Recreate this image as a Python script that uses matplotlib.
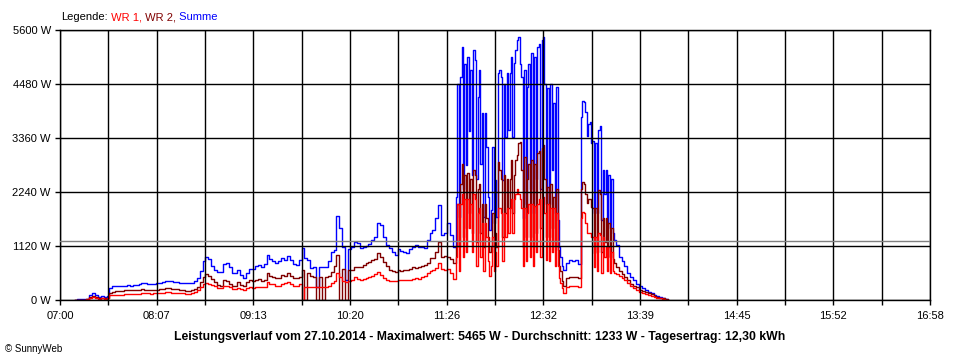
#!/usr/bin/env python3
# -*- coding: utf-8 -*-
"""
SunnyWeb-Tagesverlauf (27.10.2014) mit matplotlib nachgebaut.
Ausgabe: out.png (960x360)
"""

import numpy as np
import matplotlib

matplotlib.use("Agg")
import matplotlib.pyplot as plt


# Zeitraster in Minuten ab 07:00: (start, stop, schritt) je Abschnitt,
# in den unruhigen Abschnitten minütlich, sonst alle 2 Minuten
zeit_abschnitte = [(10, 272, 2), (272, 346, 1), (346, 358, 2), (358, 382, 1), (382, 420, 2)]
X_SPAN_MIN = 598  # 07:00 .. 16:58

# Summe (blau)
summe = [
    # 07:10 .. 11:30 (2 min)
    10, 15, 20, 20, 30, 100, 140, 110, 70, 80,
    70, 75, 240, 285, 290, 295, 300, 300, 305, 300,
    310, 315, 330, 345, 345, 340, 335, 340, 345, 360,
    380, 395, 400, 390, 375, 370, 360, 345, 345, 345,
    360, 400, 450, 600, 800, 900, 850, 700, 620, 580,
    588, 750, 761, 680, 560, 560, 620, 520, 450, 570,
    640, 650, 700, 720, 690, 740, 930, 850, 810, 770,
    800, 864, 830, 920, 830, 740, 726, 820, 1072, 880,
    830, 660, 680, 260, 680, 680, 680, 800, 1000, 1040,
    1740, 1500, 1100, 420, 1060, 1100, 1200, 1180, 1072, 1090,
    1110, 1170, 1244, 1300, 1600, 1550, 1300, 1150, 1072, 1002,
    930, 1050, 1010, 1002, 980, 1060, 1100, 1140, 1100, 1100,
    1080, 1244, 1383, 1452, 1700, 1970, 1350, 1400, 1600, 1348,
    1100,
    # 11:32 .. 12:45 (1 min)
    2140, 4490, 1730, 4630, 5250, 2300, 4900, 2800, 5050, 3500,
    4770, 2600, 5190, 4980, 2500, 4220, 4770, 2830, 3870, 1730,
    3870, 3180, 2140, 1450, 1870, 3180, 1590, 2490, 1730, 4700,
    4770, 4630, 2490, 4490, 3390, 4700, 3530, 4700, 5050, 3390,
    4910, 5190, 5400, 5460, 4900, 4630, 1700, 4770, 2000, 4420,
    4900, 2300, 5120, 1800, 5050, 2500, 5250, 5320, 2300, 5390,
    5465, 4490, 2000, 4400, 2000, 4490, 2700, 4080, 1800, 4420,
    1660, 1100, 900, 700,
    # 12:46 .. 12:56 (2 min)
    622, 760, 830, 800, 830, 740,
    # 12:58 .. 13:21 (1 min)
    3800, 4130, 4100, 3900, 3400, 3660, 3700, 3250, 3300, 1800,
    3250, 1800, 3530, 3600, 1650, 2700, 2200, 2700, 1600, 2600,
    1500, 2500, 1400, 1250,
    # 13:22 .. 13:58 (2 min)
    1150, 900, 800, 700, 550, 484, 415, 340, 290, 250,
    210, 175, 140, 110, 80, 60, 45, 25, 0,
]

# WR 2 (dunkelrot)
wr2 = [
    0, 5, 10, 10, 15, 55, 75, 60, 40, 45,
    40, 40, 150, 175, 180, 190, 195, 200, 205, 200,
    205, 205, 215, 220, 215, 215, 210, 210, 215, 225,
    235, 240, 245, 235, 230, 225, 215, 200, 190, 190,
    210, 230, 280, 380, 480, 540, 500, 440, 380, 320,
    300, 420, 400, 340, 290, 300, 380, 310, 290, 370,
    410, 390, 420, 430, 400, 420, 553, 490, 470, 460,
    450, 520, 490, 553, 500, 450, 450, 480, 622, 0,
    553, 500, 470, 0, 470, 0, 470, 500, 588, 700,
    930, 0, 640, 0, 620, 622, 691, 680, 691, 720,
    760, 795, 820, 850, 968, 900, 780, 700, 622, 600,
    588, 620, 610, 630, 620, 640, 690, 660, 680, 700,
    720, 761, 864, 880, 1000, 1210, 900, 920, 900, 850,
    760,
    1100, 2000, 1100, 2400, 2830, 1300, 2600, 1500, 2630, 1800,
    2500, 1400, 2700, 2600, 1200, 2300, 2400, 1400, 2000, 1100,
    2000, 1700, 1300, 1000, 1100, 1800, 1000, 1400, 1100, 2870,
    2700, 2500, 1300, 2600, 1800, 2500, 1900, 2500, 2900, 1800,
    2600, 2900, 3000, 3250, 3280, 2700, 1100, 2970, 1300, 2500,
    2830, 1300, 2900, 1100, 2830, 1400, 3050, 3100, 1500, 3150,
    3215, 2500, 1300, 2350, 1300, 2400, 1500, 2140, 1100, 2300,
    1040, 700, 600, 400,
    300, 450, 480, 470, 480, 450,
    2300, 2450, 2400, 2200, 2005, 2100, 2100, 1935, 1900, 968,
    1900, 1000, 2280, 2200, 1000, 1700, 1200, 1700, 900, 1600,
    900, 1500, 850, 760,
    680, 600, 540, 480, 415, 330, 300, 260, 215, 185,
    160, 140, 115, 90, 65, 45, 35, 20, 0,
]

# WR 1 (rot)
wr1 = [
    0, 5, 8, 10, 12, 45, 55, 45, 30, 35,
    30, 35, 95, 105, 108, 110, 112, 115, 118, 115,
    120, 125, 130, 135, 135, 135, 130, 135, 135, 140,
    150, 158, 160, 150, 145, 145, 140, 135, 130, 130,
    140, 165, 200, 260, 330, 350, 340, 320, 290, 250,
    240, 300, 300, 260, 230, 220, 250, 230, 210, 240,
    260, 250, 260, 260, 270, 280, 380, 330, 340, 300,
    300, 340, 350, 370, 340, 300, 300, 340, 0, 263,
    263, 263, 263, 263, 263, 263, 263, 300, 350, 400,
    553, 480, 400, 380, 400, 410, 470, 440, 415, 430,
    450, 484, 500, 540, 588, 520, 460, 420, 401, 390,
    390, 420, 410, 420, 410, 420, 440, 450, 440, 470,
    500, 553, 600, 620, 657, 761, 640, 630, 640, 560,
    430,
    900, 2000, 600, 2000, 2200, 900, 2100, 1000, 2100, 1500,
    2000, 1000, 2200, 2100, 700, 1800, 1900, 900, 1600, 600,
    1600, 1300, 800, 500, 700, 1300, 600, 1000, 700, 1900,
    1900, 1800, 800, 1800, 1300, 1900, 1400, 1900, 2100, 1400,
    2100, 2200, 2300, 2200, 2100, 1900, 700, 1900, 800, 1800,
    2000, 900, 2000, 700, 1950, 1000, 2000, 2100, 900, 2100,
    2140, 1800, 840, 2000, 800, 1900, 1000, 1900, 700, 1800,
    700, 450, 350, 250,
    150, 270, 300, 290, 300, 280,
    1700, 1831, 1800, 1600, 1383, 1400, 1400, 1313, 1300, 691,
    1300, 600, 1400, 1350, 553, 1300, 900, 1100, 600, 1100,
    550, 1000, 600, 560,
    540, 500, 460, 420, 346, 300, 250, 210, 170, 145,
    125, 110, 90, 70, 50, 35, 25, 10, 0,
]

x_tick_labels = ["07:00", "08:07", "09:13", "10:20", "11:26",
                 "12:32", "13:39", "14:45", "15:52", "16:58"]
y_ticks = [0, 1120, 2240, 3360, 4480, 5600]
y_tick_labels = [f"{v} W" for v in y_ticks]

durchschnitt = 1233
titel = ("Leistungsverlauf vom 27.10.2014 - Maximalwert: 5465 W - "
         "Durchschnitt: 1233 W - Tagesertrag: 12,30 kWh")
legende = [("Legende:", "black"), (" WR 1,", "#ff0000"),
           (" WR 2,", "#800000"), (" Summe", "#0000ff")]

W_PX, H_PX = 960, 360
PX = 72.0 / 100.0  # 1 Pixel in Punkten bei 100 dpi


def main() -> None:
    plt.rcParams["font.family"] = ["Liberation Sans", "DejaVu Sans"]

    t = np.concatenate([np.arange(a, b, s) for a, b, s in zeit_abschnitte])
    assert len(summe) == len(t) and len(wr1) == len(t) and len(wr2) == len(t), \
        (len(t), len(summe), len(wr1), len(wr2))

    fig = plt.figure(figsize=(W_PX / 100, H_PX / 100), dpi=100)
    fig.patch.set_facecolor("white")
    ax = fig.add_axes([60 / W_PX, 60 / H_PX, 870 / W_PX, 270 / H_PX])

    # Kurven: blau unten, dann WR 2, WR 1 oben
    lw = 1.4 * PX
    ax.step(t, summe, where="post", color="#0000ff", lw=lw, zorder=1.5)
    ax.step(t, wr2, where="post", color="#800000", lw=lw, zorder=1.6)
    ax.step(t, wr1, where="post", color="#ff0000", lw=lw, zorder=1.7)

    # Durchschnittslinie
    ax.axhline(durchschnitt, color="#808080", lw=1.4 * PX, zorder=3)

    ax.set_xlim(0, X_SPAN_MIN)
    ax.set_ylim(0, y_ticks[-1])

    ax.set_xticks(np.linspace(0, X_SPAN_MIN, len(x_tick_labels)))
    ax.set_xticklabels(x_tick_labels)
    ax.set_xticks(np.linspace(0, X_SPAN_MIN, 2 * len(x_tick_labels) - 1), minor=True)
    ax.set_yticks(y_ticks)
    ax.set_yticklabels(y_tick_labels)

    # Gitter liegt über den Kurven
    ax.set_axisbelow(False)
    ax.grid(which="both", axis="x", color="black", lw=1.4 * PX)
    ax.grid(which="major", axis="y", color="black", lw=1.4 * PX)

    ax.tick_params(which="both", direction="out", length=5 * PX, width=1.4 * PX,
                   color="black", labelsize=8, labelcolor="black")
    ax.tick_params(axis="x", pad=4)
    ax.tick_params(axis="y", pad=3)
    for sp in ax.spines.values():
        sp.set_color("black")
        sp.set_linewidth(1.4 * PX)

    # Titelzeile unten
    fig.text(0.5, 1 - 337 / H_PX, titel, ha="center", va="center",
             fontsize=8.8, fontweight="bold", color="black")
    fig.text(5 / W_PX, 1 - 349 / H_PX, "© SunnyWeb", ha="left", va="center",
             fontsize=7, color="black")

    # Legende oben links, farbige Einzelteile nebeneinander
    fig.canvas.draw()
    renderer = fig.canvas.get_renderer()
    x = 61
    for txt, col in legende:
        tt = fig.text(x / W_PX, 1 - 17 / H_PX, txt, ha="left", va="center",
                      fontsize=8, color=col)
        bb = tt.get_window_extent(renderer)
        x = bb.x1

    fig.savefig("out.png", dpi=100, facecolor="white")
    plt.close(fig)


if __name__ == "__main__":
    main()
